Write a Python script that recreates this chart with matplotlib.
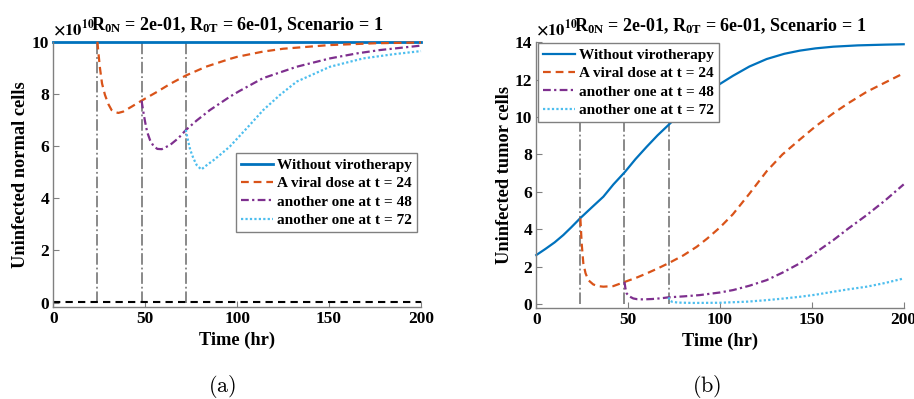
import matplotlib
matplotlib.use("Agg")
import matplotlib.pyplot as plt

plt.rcParams['font.family'] = ['Liberation Serif', 'DejaVu Serif']
plt.rcParams['font.weight'] = 'bold'
plt.rcParams['mathtext.fontset'] = 'custom'
plt.rcParams['mathtext.rm'] = 'Liberation Serif:bold'
plt.rcParams['mathtext.bf'] = 'Liberation Serif:bold'
plt.rcParams['mathtext.it'] = 'Liberation Serif:bold'

# ---------------- data (values in units of 1e10 cells) ----------------
dose_times = [24, 48, 72]
legend_labels = ["Without virotherapy", "A viral dose at t = 24",
                 "another one at t = 48", "another one at t = 72"]
x_ticks = [0, 50, 100, 150, 200]
yticks_normal = [0, 2, 4, 6, 8, 10]
yticks_tumor = [0, 2, 4, 6, 8, 10, 12, 14]

# normal cells
t_N_none = [0, 200]
v_N_none = [10, 10]
t_N_d1 = [24, 24.5, 25.4, 26.5, 28.1, 30, 31.7, 33.5, 35.4, 38, 42.6, 48, 56, 64, 72, 83, 96, 100, 114, 125, 150, 175, 200]
v_N_d1 = [10, 9.6, 8.98, 8.4, 7.96, 7.6, 7.38, 7.3, 7.27, 7.32, 7.51, 7.74, 8.06, 8.4, 8.70, 9.04, 9.34, 9.42, 9.62, 9.73, 9.87, 9.94, 9.97]
t_N_d2 = [48, 49, 49.9, 51, 52.6, 54.5, 56.6, 59, 63.5, 68, 72.2, 78, 85.2, 96, 101, 114, 132.4, 150.5, 165, 177.7, 200]
v_N_d2 = [7.74, 7.3, 6.94, 6.55, 6.23, 6.0, 5.89, 5.88, 6.04, 6.3, 6.62, 6.98, 7.38, 7.89, 8.1, 8.6, 9.04, 9.36, 9.55, 9.68, 9.85]
t_N_d3 = [72, 72.7, 73.4, 74.5, 76.2, 78, 80.5, 83.5, 87, 90, 96, 105.2, 114.2, 123.3, 132.4, 150.5, 168.6, 185, 200]
v_N_d3 = [6.62, 6.4, 6.17, 5.85, 5.53, 5.27, 5.1, 5.27, 5.45, 5.62, 5.98, 6.68, 7.38, 7.96, 8.47, 9.04, 9.36, 9.52, 9.64]
t_threshold = [0, 200]
v_threshold = [0.04, 0.04]

# tumor cells
t_T_none = [0, 5, 10, 14.7, 19, 23.8, 30, 36.5, 42, 48.3, 54, 60.1, 66, 71.9, 78, 84, 90, 96.6, 100, 107, 116, 125.4, 135, 143.5, 152, 161.7, 175, 190, 200]
v_T_none = [2.62, 2.95, 3.3, 3.69, 4.1, 4.58, 5.15, 5.74, 6.4, 7.07, 7.75, 8.41, 9.02, 9.57, 10.15, 10.65, 11.1, 11.55, 11.77, 12.2, 12.7, 13.1, 13.38, 13.55, 13.67, 13.76, 13.83, 13.87, 13.89]
t_T_d1 = [24, 24.7, 25.6, 26.8, 28.3, 31, 33.5, 36.5, 41.9, 48.3, 55, 60.1, 66, 71.9, 80, 87.3, 93, 100, 107, 116, 125.4, 134, 143.5, 152, 161.7, 170, 179.9, 190, 200]
v_T_d1 = [4.58, 3.24, 2.18, 1.65, 1.28, 1.05, 0.96, 0.93, 0.96, 1.19, 1.43, 1.64, 1.9, 2.18, 2.6, 3.06, 3.5, 4.1, 4.8, 5.9, 7.1, 8.0, 8.8, 9.5, 10.2, 10.75, 11.35, 11.85, 12.34]
t_T_d2 = [48, 48.5, 49.2, 50.5, 52.8, 55, 58.2, 63, 68, 71.9, 80, 89, 100, 107.2, 116, 125.4, 134, 143.5, 152, 161.7, 170, 179.9, 190, 200]
v_T_d2 = [1.19, 0.85, 0.57, 0.42, 0.30, 0.26, 0.25, 0.27, 0.31, 0.36, 0.41, 0.48, 0.62, 0.75, 0.98, 1.28, 1.68, 2.18, 2.75, 3.42, 4.05, 4.76, 5.55, 6.4]
t_T_d3 = [72, 72.4, 72.8, 74, 77, 85, 100, 115, 125.4, 135, 143.5, 152, 161.7, 170, 179.9, 190, 200]
v_T_d3 = [0.36, 0.25, 0.18, 0.12, 0.08, 0.06, 0.07, 0.13, 0.21, 0.3, 0.39, 0.5, 0.66, 0.79, 0.93, 1.13, 1.37]

title_text = r"$\mathregular{R_{0N}}$ = 2e-01, $\mathregular{R_{0T}}$ = 6e-01, Scenario = 1"

# ---------------- styling ----------------
C_BLUE = '#0072BD'
C_ORANGE = '#D95319'
C_PURPLE = '#7E2F8E'
C_CYAN = '#4DBEEE'
GREY = '#808080'

W, H = 914, 399
fig = plt.figure(figsize=(W / 100, H / 100), dpi=100)


def px_axes(l, r, top, bot):
    return fig.add_axes([l / W, 1 - bot / H, (r - l) / W, (bot - top) / H])


def style(ax, yticks, ylim):
    ax.set_xlim(0, 200)
    ax.set_ylim(*ylim)
    ax.set_xticks(x_ticks)
    ax.set_yticks(yticks)
    for s in ['top', 'right']:
        ax.spines[s].set_visible(False)
    for s in ['left', 'bottom']:
        ax.spines[s].set_color(GREY)
        ax.spines[s].set_linewidth(1.0)
    ax.tick_params(direction='in', length=4, width=0.8, color=GREY,
                   labelsize=12.5, pad=3)
    ax.set_xlabel("Time (hr)", fontsize=13.2, fontweight='bold', labelpad=3)
    ax.set_title(title_text, fontsize=13, fontweight='bold', pad=8)
    ax.text(0.0, 1.01, r"$\times10^{10}$", transform=ax.transAxes,
            fontsize=12, fontweight='normal', ha='left', va='bottom',
            math_fontfamily='stix', zorder=0)


def draw_series(ax, series, top):
    handles = []
    for (t, v, c, ls, lw) in series:
        h, = ax.plot(t, v, color=c, linestyle=ls, linewidth=lw, clip_on=False)
        handles.append(h)
    for d in dose_times:
        ax.plot([d, d], [0, top], color=GREY, linestyle='-.', linewidth=1.3,
                zorder=1, clip_on=False)
    return handles


# left panel
axL = px_axes(53.3, 421, 41.7, 307)
style(axL, yticks_normal, (-0.17, 10))
hL = draw_series(axL, [
    (t_N_none, v_N_none, C_BLUE, '-', 2.0),
    (t_N_d1, v_N_d1, C_ORANGE, (0, (3.5, 2.2)), 1.6),
    (t_N_d2, v_N_d2, C_PURPLE, (0, (3.5, 1.5, 1, 1.5)), 1.6),
    (t_N_d3, v_N_d3, C_CYAN, (0, (1, 1)), 1.6),
], 10)
axL.plot(t_threshold, v_threshold, color='black', linestyle=(0, (3.5, 2.5)),
         linewidth=1.5, clip_on=False)
axL.set_ylabel("Uninfected normal cells", fontsize=13.2, fontweight='bold', labelpad=2)

# right panel
axR = px_axes(536.3, 903.7, 42.2, 308)
style(axR, yticks_tumor, (-0.21, 14))
hR = draw_series(axR, [
    (t_T_none, v_T_none, C_BLUE, '-', 1.6),
    (t_T_d1, v_T_d1, C_ORANGE, (0, (3.5, 2.2)), 1.6),
    (t_T_d2, v_T_d2, C_PURPLE, (0, (3.5, 1.5, 1, 1.5)), 1.6),
    (t_T_d3, v_T_d3, C_CYAN, (0, (1, 1)), 1.6),
], 14)
axR.set_ylabel("Uninfected tumor cells", fontsize=13.2, fontweight='bold', labelpad=1)

leg_kw = dict(loc='upper left', bbox_transform=fig.transFigure, borderaxespad=0,
              handlelength=2.1, handletextpad=0.25, labelspacing=0.3,
              borderpad=0.35, fancybox=False, framealpha=1, edgecolor=GREY,
              prop={'weight': 'bold', 'size': 11})
lgL = axL.legend(hL, legend_labels, bbox_to_anchor=(236 / W, 1 - 153 / H), **leg_kw)
lgR = axR.legend(hR, legend_labels, bbox_to_anchor=(538 / W, 1 - 43 / H), **leg_kw)
for lg in (lgL, lgR):
    lg.get_frame().set_linewidth(1.0)

fig.text(222 / W, 1 - 386 / H, r"$\mathrm{(a)}$", ha='center', va='center',
         fontsize=16, math_fontfamily='cm')
fig.text(707 / W, 1 - 386 / H, r"$\mathrm{(b)}$", ha='center', va='center',
         fontsize=16, math_fontfamily='cm')

fig.savefig("out.png", dpi=100)
